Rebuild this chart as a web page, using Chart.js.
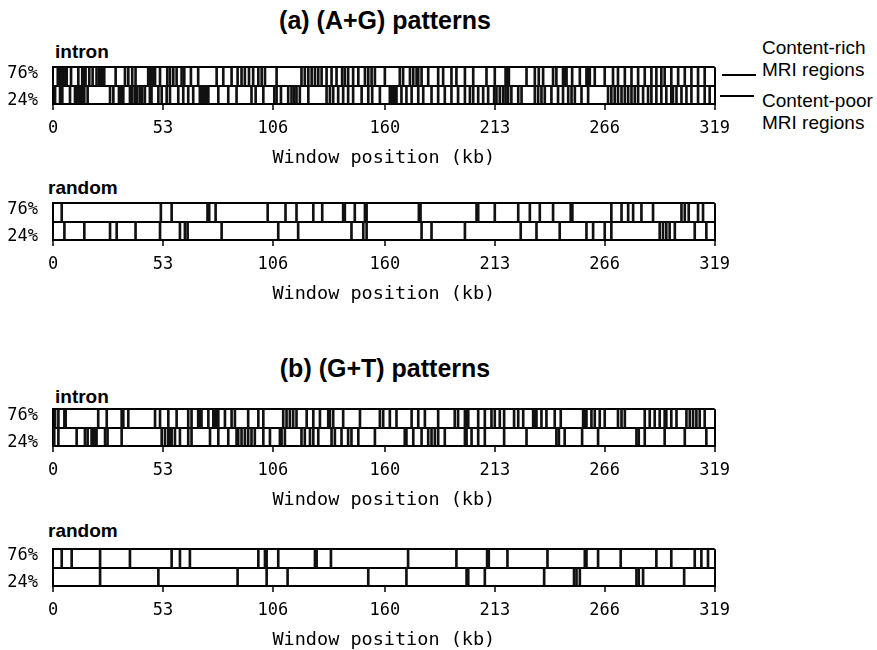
<!DOCTYPE html>
<html>
<head>
<meta charset="utf-8">
<script src="https://cdn.jsdelivr.net/npm/chart.js@4.4.1/dist/chart.umd.min.js"></script>
<style>
body { margin: 0; background: #fff; width: 877px; height: 650px; position: relative; overflow: hidden; font-family: "Liberation Sans", Arial, sans-serif; color: #000; }
.t { position: absolute; white-space: nowrap; }
.title { font-weight: bold; font-size: 25px; line-height: 30px; left: 0; width: 770px; text-align: center; }
.lab { font-weight: bold; font-size: 19px; line-height: 22px; }
.note { font-size: 19px; line-height: 22px; }
.dash { position: absolute; height: 2px; background: #000; }
canvas { position: absolute; left: 0; }
</style>
</head>
<body>

<div class="t title" style="top:5px">(a) (A+G) patterns</div>
<div class="t lab" style="left:55px;top:41px">intron</div>
<div class="t lab" style="left:48px;top:177px">random</div>
<div class="t title" style="top:353px">(b) (G+T) patterns</div>
<div class="t lab" style="left:55px;top:386px">intron</div>
<div class="t lab" style="left:48px;top:520px">random</div>

<div class="t note" style="left:762px;top:37px">Content-rich<br>MRI regions</div>
<div class="t note" style="left:762px;top:90px">Content-poor<br>MRI regions</div>
<div class="dash" style="left:722px;top:74px;width:34px"></div>
<div class="dash" style="left:720px;top:95px;width:34px"></div>

<canvas id="p1" width="738" height="127" style="top:42px"></canvas>
<canvas id="p2" width="738" height="127" style="top:178px"></canvas>
<canvas id="p3" width="738" height="127" style="top:384px"></canvas>
<canvas id="p4" width="738" height="127" style="top:524px"></canvas>

<script>
// window positions (kb) of each MRI region
const xTicks = [0, 53, 106, 160, 213, 266, 319];
const yLabels = ['24%', '76%'];

const agIntronRich = [2.3, 3.4, 4.2, 5.0, 5.8, 6.6, 8.7, 12.2, 14.1, 14.9, 15.7, 17.5, 19.1, 21.0, 22.3, 23.1, 23.9, 24.7, 30.2, 34.7, 36.3, 38.2, 39.8, 45.9, 46.7, 47.5, 48.4, 49.2, 51.6, 55.1, 56.4, 58.0, 59.6, 62.0, 63.3, 66.5, 70.0, 78.9, 82.1, 86.1, 89.0, 90.9, 92.5, 94.5, 96.5, 99.0, 100.6, 102.2,
  107.8, 119.8, 121.4, 123.1, 124.7, 126.3, 127.9, 129.5, 131.9, 134.3, 136.7, 139.4, 140.7, 142.3, 144.7, 147.2, 150.4, 152.0, 153.6, 155.2, 160.0, 167.2, 168.8, 172.1, 173.7, 175.3, 176.1, 177.7, 180.9, 185.7, 188.1, 192.1, 194.5, 198.6, 202.6, 209.0,
  213.0, 218.2, 219.1, 219.8, 228.3, 232.3, 234.2, 236.3, 241.1, 242.7, 245.9, 246.7, 247.6, 250.3, 254.0, 257.2, 258.0, 258.8, 261.2, 266.0, 270.0, 272.4, 275.7, 278.9, 282.1, 285.3, 288.5, 290.9, 293.3, 294.9, 298.1, 301.4, 304.6, 307.8, 311.0, 314.2];
const agIntronPoor = [1.0, 3.4, 4.5, 8.2, 10.6, 11.4, 12.2, 13.0, 14.1, 15.1, 16.7, 27.5, 29.1, 31.8, 32.8, 33.9, 37.1, 38.2, 39.5, 40.6, 41.9, 43.0, 44.3, 46.7, 47.5, 50.8, 52.4, 54.8, 56.4, 60.4, 62.8, 65.2, 67.6, 70.8, 71.6, 72.5, 73.3, 74.1, 74.9, 79.7, 84.5, 88.5, 95.7, 97.7, 101.4,
  106.7, 107.8, 109.9, 113.4, 115.0, 116.3, 117.4, 119.0, 123.1, 131.9, 133.5, 135.1, 137.5, 139.9, 142.3, 144.7, 148.8, 152.0, 153.9, 157.6, 162.4, 163.2, 164.0, 164.8, 165.6, 168.0, 170.4, 172.9, 176.1, 178.5, 182.5, 185.7, 188.9, 192.1, 195.3, 198.6, 201.0, 202.6, 205.0, 207.4,
  209.8, 212.7, 213.8, 215.4, 217.0, 218.2, 219.4, 221.0, 224.3, 225.9, 232.3, 233.9, 235.5, 237.1, 240.3, 243.5, 245.9, 248.4, 250.0, 251.6, 254.8, 258.0, 267.6, 269.2, 270.8, 272.4, 274.1, 275.7, 277.3, 278.9, 280.5, 282.1, 284.5, 286.9, 288.5, 290.9, 293.3, 295.7, 298.1, 298.9, 300.6, 303.0, 305.4, 307.8, 311.0, 314.2, 316.6];
const agRandomRich = [4.2, 52.0, 57.2, 74.5, 75.3, 78.4, 103.5, 112.1, 117.4, 125.5, 129.8, 139.9, 140.7, 145.5, 150.4, 151.2, 176.4, 177.2, 204.2, 205.0, 213.0, 224.3, 229.9, 234.7, 241.1, 249.6, 250.4, 269.2, 274.1, 277.3, 279.7, 283.7, 289.3, 303.0, 304.6, 306.5, 311.0, 313.4];
const agRandomPoor = [5.5, 15.1, 27.5, 30.7, 39.8, 51.6, 61.2, 63.6, 64.9, 81.3, 108.6, 118.2, 143.9, 149.6, 151.2, 177.7, 182.5, 198.6, 225.5, 233.1, 244.3, 257.2, 260.4, 266.0, 269.2, 292.5, 294.1, 295.7, 297.3, 299.8, 309.4, 315.0];

const gtIntronRich = [1.0, 2.6, 5.5, 6.1, 21.8, 25.9, 33.1, 33.9, 36.3, 49.2, 51.6, 55.6, 59.6, 65.2, 66.8, 70.0, 70.8, 71.6, 74.9, 77.3, 78.1, 78.9, 79.7, 82.9, 86.1, 87.7, 94.1, 99.0, 101.4,
  111.0, 112.6, 114.2, 115.8, 117.4, 122.3, 125.5, 128.7, 132.7, 133.5, 135.1, 139.9, 148.0, 157.6, 159.2, 162.4, 165.6, 172.9, 176.1, 179.3, 185.7, 193.7, 195.3, 198.6, 199.4, 200.2, 205.0, 208.2,
  211.4, 213.0, 215.4, 217.5, 222.3, 224.3, 226.7, 231.5, 232.3, 233.1, 235.5, 237.9, 241.9, 244.8, 255.6, 256.4, 257.2, 259.6, 261.2, 263.6, 266.0, 272.4, 274.1, 275.7, 285.3, 287.7, 290.1, 292.5, 294.9, 295.7, 298.1, 300.6, 305.4, 307.0, 308.6, 310.2, 311.8, 314.2];
const gtIntronPoor = [0.6, 2.6, 11.4, 15.4, 16.7, 18.6, 19.4, 20.2, 21.0, 25.1, 26.3, 33.1, 52.4, 54.0, 55.6, 56.4, 57.2, 58.8, 61.2, 65.2, 66.8, 75.7, 79.7, 84.5, 88.5, 89.3, 90.9, 92.5, 94.1, 95.7, 97.3, 101.4,
  104.6, 109.4, 110.2, 111.8, 119.8, 121.4, 123.9, 125.5, 127.9, 134.3, 135.9, 139.1, 142.3, 143.9, 147.2, 155.2, 169.6, 170.4, 173.7, 177.7, 180.9, 182.5, 184.1, 185.7, 188.9, 198.6, 199.4, 201.8, 205.0, 208.2,
  217.5, 228.3, 242.7, 243.9, 246.7, 255.1, 262.8, 281.3, 282.4, 285.3, 294.9, 304.6, 315.0];
const gtRandomRich = [4.2, 9.0, 22.7, 37.1, 57.2, 61.2, 66.0, 99.0, 102.2, 103.0, 108.6, 126.3, 127.1, 134.0, 171.2, 194.5, 209.3, 210.1, 219.1, 238.4, 256.4, 257.2, 262.8, 273.7, 290.9, 298.1, 309.4, 312.6, 315.8];
const gtRandomPoor = [22.7, 50.8, 89.0, 103.0, 113.1, 152.0, 170.4, 199.4, 200.2, 208.2, 236.8, 251.2, 252.4, 254.0, 281.3, 282.4, 284.5, 304.3];

const mono = "'DejaVu Sans Mono', 'Liberation Mono', monospace";

function drawPanel(id, rich, poor) {
  // upper band = content-rich (y 1..2), lower band = content-poor (y 0..1)
  const marks = (list, lo, hi) => list.map(v => ({ x: v, y: [lo, hi] }));

  new Chart(document.getElementById(id), {
    type: "bar",
    data: {
      datasets: [
        { data: marks(rich, 1, 2), backgroundColor: "#111", barThickness: 2, grouped: false },
        { data: marks(poor, 0, 1), backgroundColor: "#111", barThickness: 2, grouped: false }
      ]
    },
    options: {
      responsive: false,
      animation: false,
      layout: { autoPadding: false, padding: { top: 10, right: 20, left: 0, bottom: 0 } },
      plugins: { legend: { display: false }, tooltip: { enabled: false } },
      scales: {
        x: {
          type: "linear",
          min: 0,
          max: 319,
          offset: false,
          afterBuildTicks: s => { s.ticks = xTicks.map(v => ({ value: v })); },
          afterFit: s => { s.height = 65; },
          grid: {
            offset: false,
            color: c => (c.tick && (c.tick.value === 0 || c.tick.value === 319)) ? "#000" : "rgba(0,0,0,0)",
            lineWidth: 2,
            tickColor: "#000",
            tickWidth: 1.5,
            tickLength: 6
          },
          border: { display: true, color: "#000", width: 2 },
          ticks: { font: { family: mono, size: 17 }, color: "#000", padding: 8, maxRotation: 0, autoSkip: false },
          title: { display: true, text: "Window position (kb)", font: { family: mono, size: 18.5 }, color: "#000", padding: 0 }
        },
        y: {
          min: 0,
          max: 2,
          afterBuildTicks: s => { s.ticks = [0, 0.16, 1, 1.68, 2].map(v => ({ value: v })); },
          afterFit: s => { s.width = 53; },
          grid: {
            color: c => Number.isInteger(c.tick.value) ? "#000" : "rgba(0,0,0,0)",
            lineWidth: 2,
            drawTicks: false
          },
          border: { display: true, color: "#000", width: 2 },
          ticks: {
            autoSkip: false,
            callback: v => v === 0.16 ? yLabels[0] : v === 1.68 ? yLabels[1] : "",
            padding: 15,
            font: { family: mono, size: 17 },
            color: "#000"
          }
        }
      }
    }
  });
}

drawPanel("p1", agIntronRich, agIntronPoor);
drawPanel("p2", agRandomRich, agRandomPoor);
drawPanel("p3", gtIntronRich, gtIntronPoor);
drawPanel("p4", gtRandomRich, gtRandomPoor);
</script>
</body>
</html>
